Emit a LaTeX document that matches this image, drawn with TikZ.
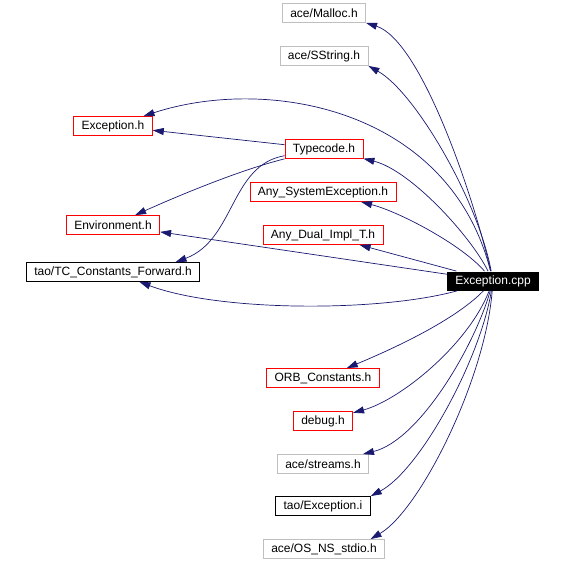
\documentclass[tikz,border=0pt]{standalone}
\usepackage{fontspec}
\setmainfont{Liberation Sans}
\usetikzlibrary{arrows.meta}
\definecolor{edgeblue}{HTML}{191970}
\definecolor{greyline}{HTML}{BFBFBF}

\begin{document}
\begin{tikzpicture}[x=1pt, y=-1pt,
	every node/.style={font=\fontsize{12}{14}\selectfont, inner xsep=8pt, inner ysep=0pt, minimum height=19pt, line width=0.8pt},
	redbox/.style={draw=red},
	greybox/.style={draw=greyline},
	blackbox/.style={draw=black},
	dep/.style={edgeblue, line width=0.7pt, -{Triangle[length=11pt,width=7pt]}}]
	\useasboundingbox (0,0) rectangle (564,561);
	% middle column
	\node[greybox] (malloc) at (324,13) {ace/Malloc.h};
	\node[greybox] (sstring) at (324,56) {ace/SString.h};
	\node[redbox] (typecode) at (324,149) {Typecode.h};
	\node[redbox] (anysys) at (323,192) {Any\_SystemException.h};
	\node[redbox] (dual) at (323,235) {Any\_Dual\_Impl\_T.h};
	\node[redbox] (orb) at (323,378) {ORB\_Constants.h};
	\node[redbox] (debug) at (323,421) {debug.h};
	\node[greybox] (streams) at (323,464) {ace/streams.h};
	\node[blackbox] (exci) at (323,506) {tao/Exception.i};
	\node[greybox] (stdio) at (324,549) {ace/OS\_NS\_stdio.h};
	% left column
	\node[redbox] (exch) at (113,126) {Exception.h};
	\node[redbox] (env) at (113,225) {Environment.h};
	\node[blackbox] (tcc) at (113,272) {tao/TC\_Constants\_Forward.h};
	% the file itself
	\node[fill=black, text=white] (cpp) at (493,281) {Exception.cpp};

	\draw[dep] (cpp) .. controls (472,190) and (420,40) .. (malloc.south east);
	\draw[dep] (cpp) .. controls (478,200) and (415,92) .. (sstring.south east);
	\draw[dep] (cpp) .. controls (450,110) and (270,75) .. (exch);
	\draw[dep] (cpp) .. controls (470,235) and (410,170) .. (typecode);
	\draw[dep] (cpp) .. controls (462,245) and (400,212) .. (anysys);
	\draw[dep] (cpp) -- (dual);
	\draw[dep] (cpp) -- (env);
	\draw[dep] (cpp) .. controls (380,312) and (220,312) .. (tcc);
	\draw[dep] (cpp) .. controls (455,320) and (395,348) .. (orb);
	\draw[dep] (cpp) .. controls (468,345) and (400,400) .. (debug);
	\draw[dep] (cpp) .. controls (475,345) and (420,440) .. (streams);
	\draw[dep] (cpp) .. controls (480,360) and (420,470) .. (exci.north east);
	\draw[dep] (cpp) .. controls (485,380) and (420,510) .. (stdio.12);

	\draw[dep] (typecode) -- (exch);
	\draw[dep] (typecode) .. controls (240,170) and (180,195) .. (env);
	\draw[dep] (typecode) .. controls (230,165) and (235,240) .. (tcc.9);
\end{tikzpicture}
\end{document}
